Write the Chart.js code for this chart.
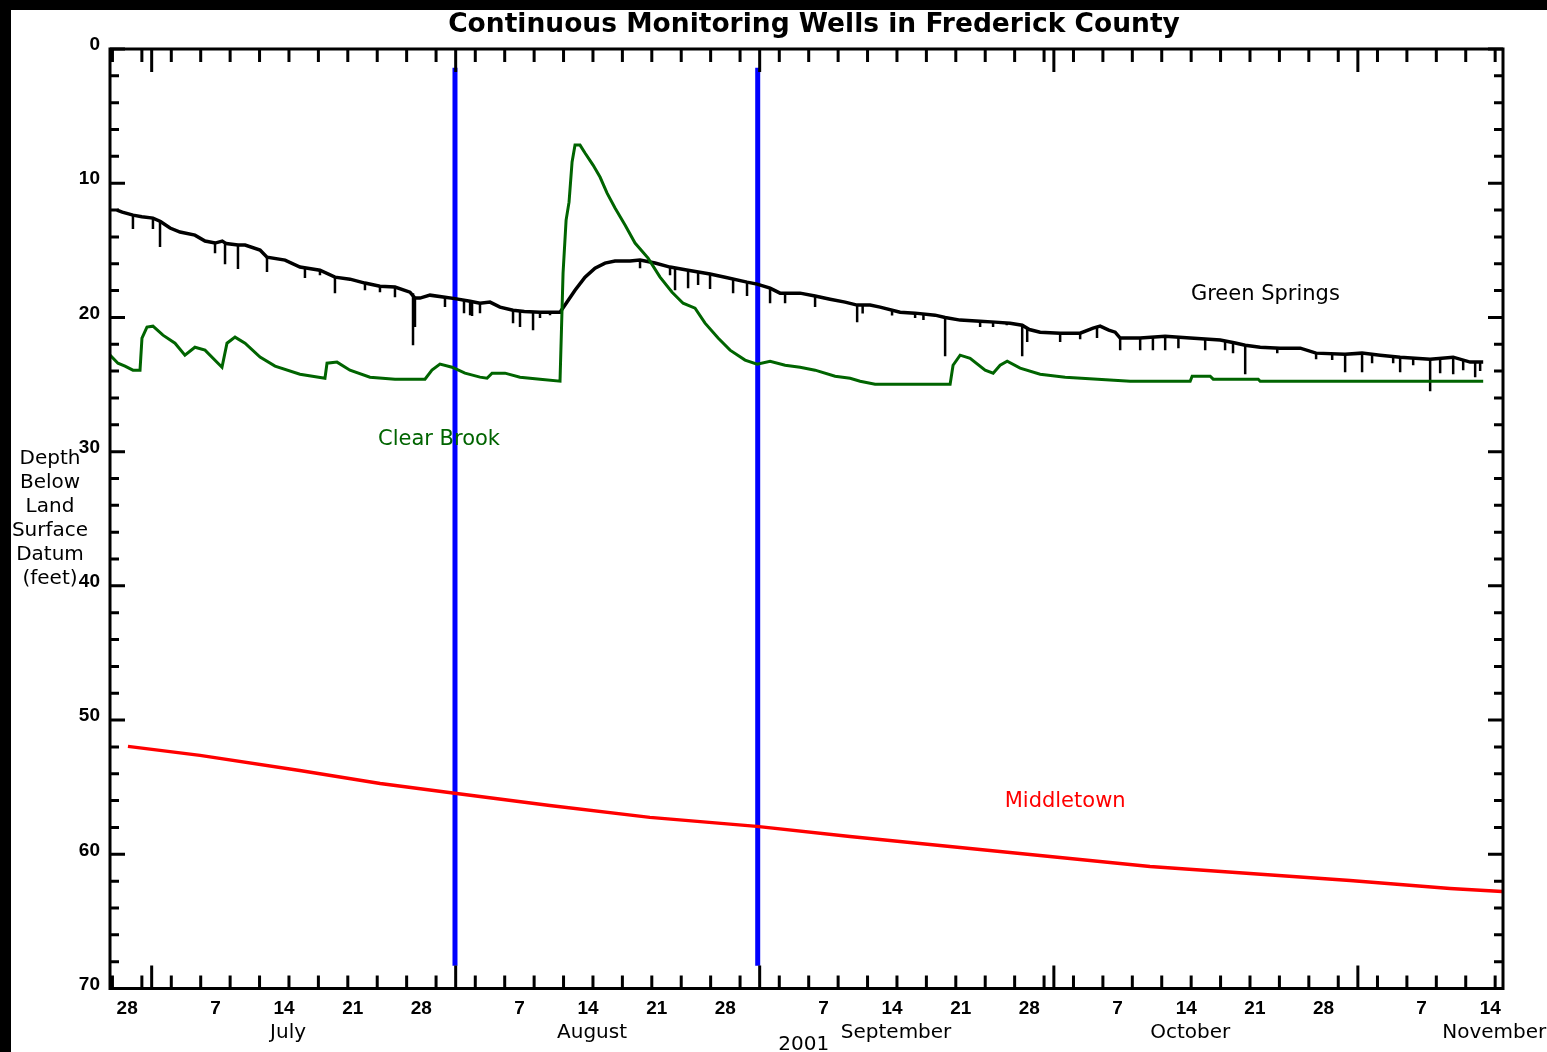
<!DOCTYPE html>
<html><head><meta charset="utf-8">
<script src="https://cdn.jsdelivr.net/npm/chart.js@4.4.0/dist/chart.umd.min.js"></script>
<style>html,body{margin:0;padding:0;background:#fff;}#wrap{width:1547px;height:1052px;position:relative;}</style>
</head><body><div id="wrap"><canvas id="c"></canvas></div>
<script>
// ---- text ----
const chartTitle = 'Continuous Monitoring Wells in Frederick County';
const yAxisTitle = ['Depth','Below','Land','Surface','Datum','(feet)'];
const yearLabel = '2001';
// ---- time axis (days since 1 July 2001) ----
const monthNames = ['June','July','August','September','October','November'];
const monthStartDays = [-30, 0, 31, 62, 92, 123];
const dayLabels = [7, 14, 21, 28];
const minorTickDays = [3, 6, 9, 12, 15, 18, 21, 24, 27, 30];
const monthLabelDay = 14;
const xMin = -4.25, xMax = 137.8;
// ---- depth axis ----
const yTicks = [0, 10, 20, 30, 40, 50, 60, 70];
const yMinorStep = 2;

// ---- Green Springs (black) ----
const gsDays  = [-3.54,-3.0,-1.9,-1.0,0.13,0.9,1.87,2.89,4.41,5.44,6.46,7.2,7.6,8.8,9.52,11.05,11.76,13.60,15.12,17.16,18.69,20.22,21.75,23.28,24.81,26.34,26.85,27.36,28.38,29.91,30.93,32.47,33.48,34.50,35.52,36.85,38.0,39.60,40.62,41.64,42.15,43.17,44.19,45.21,46.23,47.25,48.78,49.80,51.33,52.86,54.70,56.94,58.47,60.71,61.74,63.06,64.08,66.12,67.65,69.18,70.71,71.94,73.26,74.28,76.32,77.85,79.89,80.91,82.44,84.48,86.01,87.54,88.77,89.5,90.60,92.64,94.68,96.0,96.72,97.6,98.25,98.76,100.80,103.35,105.90,107.43,108.96,110.5,111.51,113.04,115.06,117.13,118.74,121.70,123.43,125.27,127.31,130.37,132.72,134.45,135.78];
const gsDepth = [12.00,12.15,12.38,12.5,12.6,12.85,13.34,13.64,13.87,14.31,14.46,14.31,14.5,14.6,14.61,14.98,15.51,15.73,16.25,16.48,17.0,17.15,17.44,17.67,17.74,18.12,18.56,18.56,18.34,18.49,18.6,18.8,18.94,18.86,19.23,19.46,19.55,19.61,19.61,19.61,19.08,17.97,17.0,16.33,15.95,15.80,15.80,15.73,15.95,16.25,16.48,16.77,17.0,17.37,17.52,17.82,18.19,18.19,18.41,18.64,18.86,19.08,19.08,19.23,19.61,19.68,19.83,20.0,20.20,20.28,20.35,20.43,20.58,20.9,21.10,21.17,21.17,20.8,20.65,20.95,21.10,21.54,21.54,21.40,21.54,21.6,21.69,21.9,22.07,22.22,22.29,22.29,22.66,22.74,22.66,22.81,22.96,23.11,22.96,23.33,23.33];
// short downward spikes of the Green Springs record
const gsSpikeDays  = [-1.91,0.13,0.85,6.46,7.48,8.80,11.76,15.63,17.16,18.69,21.75,23.28,24.81,26.65,26.85,29.91,31.85,32.47,32.67,33.48,36.85,37.56,38.89,39.60,40.62,49.80,52.86,53.37,54.70,55.72,56.94,59.29,60.71,63.06,64.59,67.65,71.94,72.5,75.5,77.85,78.7,80.91,84.48,85.8,87.2,88.77,89.28,92.64,94.68,96.4,98.76,100.80,102.1,103.35,104.7,107.43,109.46,110.27,111.51,114.78,118.74,120.38,121.70,123.43,124.45,126.6,127.31,128.64,130.37,131.39,132.72,133.74,134.96,135.47];
const gsSpikeBase  = [12.38,12.6,12.85,14.46,14.4,14.6,15.51,16.3,16.48,17.0,17.44,17.67,17.74,18.2,18.56,18.49,18.7,18.8,18.8,18.94,19.46,19.5,19.58,19.61,19.61,15.73,16.25,16.3,16.48,16.6,16.77,17.1,17.37,17.82,18.19,18.41,19.08,19.08,19.4,19.68,19.75,20.0,20.28,20.3,20.4,20.58,20.8,21.17,21.17,20.7,21.54,21.54,21.5,21.40,21.5,21.6,21.8,21.9,22.07,22.29,22.66,22.7,22.74,22.66,22.75,22.9,22.96,23.0,23.11,23.1,22.96,23.1,23.33,23.33];
const gsSpikeDepth = [13.42,13.42,14.76,15.21,16.03,16.40,16.62,17.07,16.85,18.19,17.97,18.12,18.49,22.07,20.72,19.23,19.68,19.83,19.90,19.68,20.43,20.72,20.95,20.05,19.83,16.33,16.85,17.97,17.82,17.59,17.89,18.19,18.41,18.94,18.94,19.23,20.35,19.7,19.85,20.05,20.2,22.89,20.72,20.72,20.58,22.89,21.84,21.84,21.62,21.54,22.44,22.44,22.44,22.44,22.29,22.44,22.44,22.66,24.23,22.66,23.11,23.18,24.08,24.08,23.41,23.41,24.08,23.56,25.50,24.15,24.23,23.93,24.45,24.0];

// ---- Clear Brook (green) ----
const cbDays  = [-4.25,-3.44,-2.72,-1.91,-1.19,-0.99,-0.48,0.13,1.15,2.38,3.39,4.41,5.44,6.76,7.17,7.68,8.50,9.52,11.05,12.58,15.12,17.67,17.88,18.90,20.22,22.26,24.81,27.87,28.58,29.40,30.63,31.95,33.48,34.20,34.71,36.03,37.56,39.60,41.64,41.95,42.26,42.56,42.87,43.17,43.68,44.19,45.01,45.72,46.44,47.25,48.27,49.29,50.62,51.84,53.07,54.19,55.41,56.43,57.76,58.98,60.51,61.74,63.06,64.59,66.12,67.65,69.69,71.22,72.24,73.77,81.42,81.72,82.44,83.46,84.99,85.81,86.52,87.24,88.56,90.60,93.15,99.78,105.90,106.10,107.94,108.25,112.84,113.04,135.78];
const cbDepth = [22.81,23.41,23.63,23.93,23.93,21.54,20.72,20.65,21.32,21.92,22.81,22.22,22.44,23.41,23.71,21.92,21.47,21.92,22.96,23.63,24.23,24.53,23.41,23.33,23.93,24.45,24.60,24.60,23.93,23.48,23.71,24.15,24.45,24.53,24.15,24.15,24.45,24.60,24.75,16.70,12.75,11.41,8.42,7.16,7.16,7.75,8.65,9.54,10.74,11.85,13.12,14.46,15.58,17.00,18.12,18.94,19.31,20.43,21.54,22.44,23.18,23.48,23.26,23.56,23.71,23.93,24.38,24.53,24.75,24.97,24.97,23.56,22.81,23.04,23.93,24.15,23.56,23.26,23.78,24.23,24.45,24.75,24.75,24.38,24.38,24.60,24.60,24.75,24.75];

// ---- Middletown (red) ----
const mtDays  = [-2.42,4.93,15.1,23.3,30.9,40.6,50.8,61.7,71.2,81.4,91.6,101.8,112.0,122.2,132.4,137.7];
const mtDepth = [51.96,52.63,53.75,54.72,55.46,56.36,57.25,57.92,58.67,59.42,60.16,60.91,61.43,61.95,62.55,62.78];

// ---- blue event markers ----
const eventDays = [30.93, 61.8];
const eventTop = 1.4, eventBottom = 68.3;

// ---- annotations ----
const seriesNames = ['Green Springs', 'Clear Brook', 'Middletown'];

// build datasets
const pts = (xs, ys) => xs.map((x, i) => ({x, y: ys[i]}));
const spikeData = [];
gsSpikeDays.forEach((t, i) => { spikeData.push({x:t, y:gsSpikeBase[i]}, {x:t, y:gsSpikeDepth[i]}, {x:t, y:null}); });
const eventData = [];
eventDays.forEach(t => { eventData.push({x:t, y:eventTop}, {x:t, y:eventBottom}, {x:t, y:null}); });

const xLabelTicks = [], xLabelTexts = [];
monthStartDays.forEach(s => dayLabels.forEach(d => {
  const v = s + d - 0.5;
  if (v >= xMin && v <= xMax) { xLabelTicks.push(v); xLabelTexts.push(String(d)); }
}));

const FONT = 'DejaVu Sans';
const NUMFONT = 'Liberation Sans';
const framePlugin = {
  id: 'frame',
  beforeDraw(chart) {
    const c = chart.ctx; c.save(); c.fillStyle = '#fff'; c.fillRect(0, 0, chart.width, chart.height); c.restore();
  },
  afterDatasetsDraw(chart) {
    const c = chart.ctx, a = chart.chartArea, xs = chart.scales.x, ys = chart.scales.y;
    c.save();
    c.strokeStyle = '#000'; c.lineWidth = 3; c.lineCap = 'butt';
    c.strokeRect(a.left, a.top, a.right - a.left, a.bottom - a.top);
    c.beginPath();
    for (let v = 0; v <= 70; v += yMinorStep) {
      const y = ys.getPixelForValue(v), len = (v % 10 === 0) ? 15 : 9;
      c.moveTo(a.left, y); c.lineTo(a.left + len, y);
      c.moveTo(a.right, y); c.lineTo(a.right - len, y);
    }
    monthStartDays.forEach(s => {
      const marks = [[s, 23]].concat(minorTickDays.map(d => [s + d - 1, 13]));
      marks.forEach(([t, len]) => {
        if (t < xMin - 0.01 || t > xMax + 0.01) return;
        const x = xs.getPixelForValue(t);
        c.moveTo(x, a.bottom); c.lineTo(x, a.bottom - len);
        c.moveTo(x, a.top); c.lineTo(x, a.top + len);
      });
    });
    c.stroke();
    c.restore();
  },
  afterDraw(chart) {
    const c = chart.ctx, xs = chart.scales.x, ys = chart.scales.y;
    c.save();
    c.fillStyle = '#000';
    c.textAlign = 'center'; c.textBaseline = 'alphabetic';
    c.font = 'bold 26.5px "' + FONT + '"';
    c.fillText(chartTitle, 814, 32);
    c.font = '20px "' + FONT + '"';
    yAxisTitle.forEach((s, i) => c.fillText(s, 50, 464 + i * 24));
    monthNames.forEach((m, i) => {
      const t = monthStartDays[i] + monthLabelDay - 0.5;
      if (t < xMin || t > xMax) return;
      c.fillText(m, xs.getPixelForValue(t) + 4, 1038);
    });
    c.fillText(yearLabel, xs.getPixelForValue(66.5), 1050);
    c.font = '21px "' + FONT + '"';
    c.fillStyle = '#000'; c.fillText(seriesNames[0], xs.getPixelForValue(113.57), ys.getPixelForValue(18.71));
    c.fillStyle = '#006400'; c.fillText(seriesNames[1], xs.getPixelForValue(29.3), ys.getPixelForValue(29.5));
    c.fillStyle = '#ff0000'; c.fillText(seriesNames[2], xs.getPixelForValue(93.15), ys.getPixelForValue(56.5));
    c.fillStyle = '#000';
    c.fillRect(0, 0, chart.width, 10);
    c.fillRect(0, 0, 11, chart.height);
    c.restore();
  }
};

const lineDs = (label, data, color, w, extra) => Object.assign({label, data, borderColor: color, backgroundColor: color, borderWidth: w, pointRadius: 0, tension: 0, fill: false}, extra || {});

new Chart(document.getElementById('c'), {
  type: 'line',
  data: { datasets: [
    lineDs('Clear Brook', pts(cbDays, cbDepth), '#006400', 3),
    lineDs('Green Springs', pts(gsDays, gsDepth), '#000000', 3.5),
    lineDs('Green Springs spikes', spikeData, '#000000', 2.5, {spanGaps: false}),
    lineDs('Middletown', pts(mtDays, mtDepth), '#ff0000', 3.5),
    lineDs('Observation window', eventData, '#0000ff', 5, {spanGaps: false})
  ]},
  options: {
    responsive: true, maintainAspectRatio: false, animation: false,
    layout: { padding: { left: 0, top: 49, right: 44, bottom: 0 } },
    plugins: { legend: { display: false }, tooltip: { enabled: false }, title: { display: false } },
    scales: {
      x: {
        type: 'linear', min: xMin, max: xMax,
        grid: { display: false, drawTicks: false }, border: { display: false },
        afterBuildTicks: s => { s.ticks = xLabelTicks.map(v => ({value: v})); },
        afterFit: s => { s.height = 63.5; },
        ticks: { autoSkip: false, maxRotation: 0, minRotation: 0, padding: 9, color: '#000',
                 font: { family: NUMFONT, size: 19, weight: 'bold' }, callback: (v, i) => xLabelTexts[i] }
      },
      y: {
        type: 'linear', reverse: true, min: 0, max: 70,
        grid: { display: false, drawTicks: false }, border: { display: false },
        afterBuildTicks: s => { s.ticks = yTicks.map(v => ({value: v})); },
        afterFit: s => { s.width = 110; },
        ticks: { padding: 10, labelOffset: -4, color: '#000', font: { family: NUMFONT, size: 19, weight: 'bold' } }
      }
    }
  },
  plugins: [framePlugin]
});
</script></body></html>
